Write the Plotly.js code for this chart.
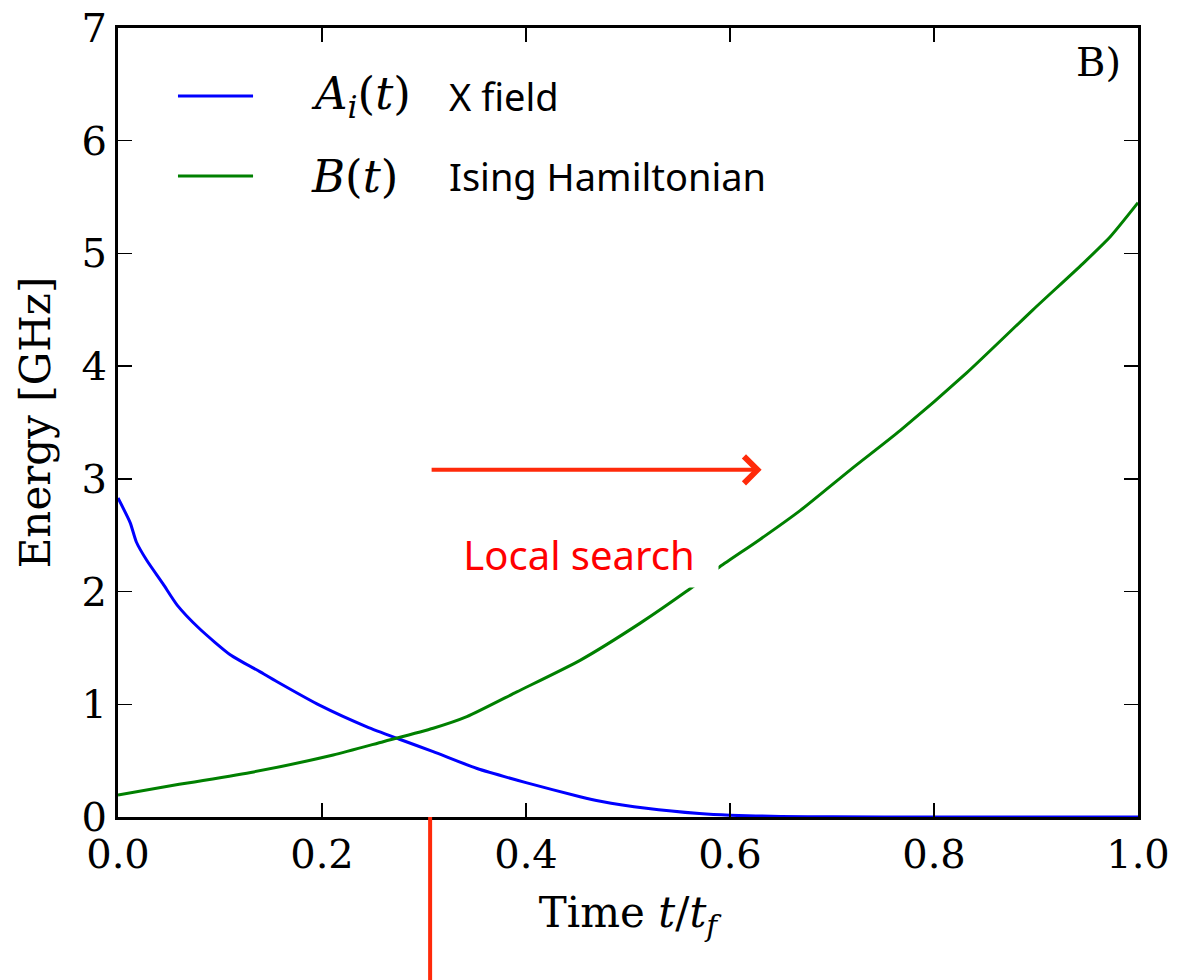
<!DOCTYPE html>
<html>
<head>
<meta charset="utf-8">
<script src="https://cdn.plot.ly/plotly-3.0.1.min.js"></script>
<style>
  html, body { margin: 0; padding: 0; background: #ffffff; }
  #chart { width: 1183px; height: 980px; }
</style>
</head>
<body>
<div id="chart"></div>
<script>
// Annealing schedule: transverse (X) field A_i(t) and Ising Hamiltonian B(t)
const tA = [0, 0.012, 0.018, 0.028, 0.044, 0.058, 0.08, 0.11, 0.139, 0.156, 0.198,
            0.244, 0.276, 0.309, 0.352, 0.40, 0.453, 0.473, 0.518, 0.57, 0.6, 0.65,
            0.7, 0.8, 0.9, 1.0];
const valuesA = [2.83, 2.61, 2.44, 2.28, 2.07, 1.88, 1.67, 1.44, 1.29, 1.20, 0.99,
                 0.80, 0.69, 0.58, 0.43, 0.305, 0.18, 0.14, 0.077, 0.03, 0.015, 0.005,
                 0.002, 0, 0, 0];

const tB = [0, 0.06, 0.133, 0.211, 0.26, 0.309, 0.342, 0.391, 0.453, 0.512, 0.557,
            0.59, 0.629, 0.669, 0.718, 0.767, 0.832, 0.897, 0.946, 0.973, 1.0];
const valuesB = [0.195, 0.29, 0.40, 0.55, 0.668, 0.787, 0.89, 1.11, 1.39, 1.72, 2.0,
                 2.22, 2.46, 2.72, 3.08, 3.43, 3.94, 4.50, 4.91, 5.15, 5.45];

const seriesMath = ['<i>A<sub>i</sub></i>(<i>t</i>)', '<i>B</i>(<i>t</i>)'];
const seriesNames = ['X field', 'Ising Hamiltonian'];
const seriesColors = ['#0000ff', '#008000'];

const xTicks = [0, 0.2, 0.4, 0.6, 0.8, 1.0];
const xTickLabels = ['0.0', '0.2', '0.4', '0.6', '0.8', '1.0'];
const yTicks = [0, 1, 2, 3, 4, 5, 6, 7];

// Local search window: starts at this fraction of the anneal, arrow reaches the end point
const localSearchStart = 0.306;
const localSearchArrowEnd = 0.631;
const localSearchArrowLevel = 3.08;
const localSearchLabel = 'Local search';
const panelLabel = 'B)';

const serif = 'DejaVu Serif, serif';
const sans = 'Noto Sans, Open Sans, sans-serif';
const red = '#ff2a0a';

const traces = [
  { x: tA, y: valuesA, name: seriesNames[0], type: 'scatter', mode: 'lines',
    line: { color: seriesColors[0], width: 3, shape: 'spline', smoothing: 0.6 },
    showlegend: false },
  { x: tB, y: valuesB, name: seriesNames[1], type: 'scatter', mode: 'lines',
    line: { color: seriesColors[1], width: 3, shape: 'spline', smoothing: 0.6 },
    showlegend: false }
];

// Legend drawn by hand so the sample lines can be long
const legendRowsY = [0.9138, 0.8124];
const shapes = [];
const annotations = [];
legendRowsY.forEach((yy, i) => {
  shapes.push({ type: 'line', xref: 'paper', yref: 'paper',
    x0: 0.0588, x1: 0.1324, y0: yy, y1: yy,
    line: { color: seriesColors[i], width: 3 } });
  annotations.push({ xref: 'paper', yref: 'paper', x: 0.187, y: yy,
    xanchor: 'left', yanchor: 'middle', showarrow: false,
    text: seriesMath[i], font: { family: serif, size: 45, color: '#000' } });
  annotations.push({ xref: 'paper', yref: 'paper', x: 0.323, y: yy,
    xanchor: 'left', yanchor: 'middle', showarrow: false,
    text: seriesNames[i], font: { family: sans, size: 38, color: '#000' } });
});

// Vertical marker where local search begins (runs below the axis)
shapes.push({ type: 'line', xref: 'x', yref: 'paper',
  x0: localSearchStart, x1: localSearchStart, y0: 0, y1: -0.21,
  line: { color: red, width: 4 } });

// Arrow for the local search span
annotations.push({ xref: 'x', yref: 'y', axref: 'x', ayref: 'y',
  x: localSearchArrowEnd, y: localSearchArrowLevel,
  ax: localSearchStart, ay: localSearchArrowLevel,
  text: '', showarrow: true, arrowhead: 4, arrowsize: 1.3, arrowwidth: 4,
  arrowcolor: red, standoff: 0, startstandoff: 0 });

// Label with a white box that masks the curve behind it
annotations.push({ xref: 'x', yref: 'y', x: 0.452, y: 2.33,
  text: localSearchLabel, showarrow: false, bgcolor: '#ffffff',
  width: 270, height: 58, borderpad: 4, xanchor: 'center', yanchor: 'middle',
  font: { family: sans, size: 40, color: '#ff0000' } });

annotations.push({ xref: 'paper', yref: 'paper', x: 0.985, y: 0.957,
  xanchor: 'right', yanchor: 'middle', showarrow: false, text: panelLabel,
  font: { family: serif, size: 40, color: '#000' } });

const axisCommon = {
  showgrid: false, zeroline: false, showline: true, linecolor: '#000', linewidth: 3,
  mirror: 'allticks', ticks: 'inside', ticklen: 14, tickwidth: 1.5, tickcolor: '#000',
  tickfont: { family: serif, size: 40, color: '#000' }
};

const layout = {
  width: 1183, height: 980,
  margin: { l: 118, r: 45, t: 28, b: 163, pad: 0 },
  paper_bgcolor: '#ffffff', plot_bgcolor: '#ffffff',
  showlegend: false,
  xaxis: Object.assign({}, axisCommon, {
    range: [0, 1], tickvals: xTicks, ticktext: xTickLabels,
    title: { text: 'Time <i>t</i>/<i>t<sub>f</sub></i>', standoff: 22,
             font: { family: serif, size: 42, color: '#000' } }
  }),
  yaxis: Object.assign({}, axisCommon, {
    range: [0, 7], tickvals: yTicks,
    title: { text: 'Energy [GHz]', standoff: 18,
             font: { family: serif, size: 42, color: '#000' } }
  }),
  shapes: shapes,
  annotations: annotations
};

Plotly.newPlot('chart', traces, layout, { displayModeBar: false, staticPlot: true });
</script>
</body>
</html>
